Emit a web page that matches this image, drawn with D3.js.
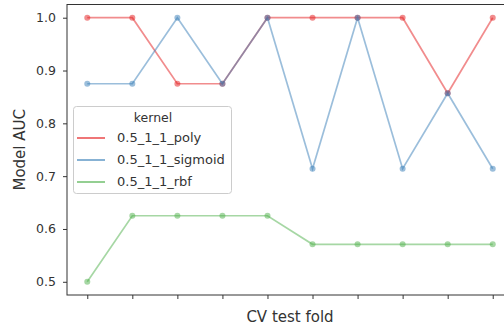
<!DOCTYPE html>
<html>
<head>
<meta charset="utf-8">
<script src="https://cdn.jsdelivr.net/npm/d3@7"></script>
<style>
  body { margin: 0; background: #fff; }
  text { font-family: 'DejaVu Sans', sans-serif; fill: #333; }
</style>
</head>
<body>
<div id="chart"></div>
<script>
const folds = [0, 1, 2, 3, 4, 5, 6, 7, 8, 9];
const kernels = ['0.5_1_1_poly', '0.5_1_1_sigmoid', '0.5_1_1_rbf'];
const polyAuc = [1.0, 1.0, 0.875, 0.875, 1.0, 1.0, 1.0, 1.0, 0.857, 1.0];
const sigmoidAuc = [0.875, 0.875, 1.0, 0.875, 1.0, 0.714, 1.0, 0.714, 0.857, 0.714];
const rbfAuc = [0.5, 0.625, 0.625, 0.625, 0.625, 0.571, 0.571, 0.571, 0.571, 0.571];
const yTicks = [0.5, 0.6, 0.7, 0.8, 0.9, 1.0];

const series = [polyAuc, sigmoidAuc, rbfAuc];
const colors = ['#e41a1c', '#377eb8', '#4daf4a'];

const width = 504, height = 328;
const plotLeft = 67, plotRight = 513, plotTop = 4.5, plotBottom = 295;

const svg = d3.select('#chart').append('svg')
  .attr('width', width)
  .attr('height', height);

// matplotlib-like 5% margins
const x = d3.scaleLinear().domain([-0.45, 9.45]).range([plotLeft, plotRight]);
const y = d3.scaleLinear().domain([0.475, 1.025]).range([plotBottom, plotTop]);

const line = d3.line()
  .x((d, i) => x(folds[i]))
  .y(d => y(d));

series.forEach((vals, k) => {
  svg.append('path')
    .datum(vals)
    .attr('d', line)
    .attr('fill', 'none')
    .attr('stroke', colors[k])
    .attr('stroke-opacity', 0.5)
    .attr('stroke-width', 1.7);
  svg.selectAll(null)
    .data(vals)
    .enter()
    .append('circle')
    .attr('cx', (d, i) => x(folds[i]))
    .attr('cy', d => y(d))
    .attr('r', 3)
    .attr('fill', colors[k])
    .attr('fill-opacity', 0.5);
});

// axes
const yAxis = svg.append('g')
  .attr('transform', `translate(${plotLeft},0)`)
  .call(d3.axisLeft(y).tickValues(yTicks).tickFormat(d3.format('.1f')).tickSize(4).tickPadding(7));
const xAxis = svg.append('g')
  .attr('transform', `translate(0,${plotBottom})`)
  .call(d3.axisBottom(x).tickValues(folds).tickFormat('').tickSize(4));

[xAxis, yAxis].forEach(g => {
  g.select('.domain').remove();
  g.selectAll('.tick line').attr('stroke', '#333').attr('stroke-width', 1);
  g.selectAll('.tick text').attr('font-size', 12.5).attr('fill', '#333')
    .attr('font-family', "'DejaVu Sans', sans-serif");
});

// spines
svg.append('rect')
  .attr('x', plotLeft)
  .attr('y', plotTop)
  .attr('width', plotRight - plotLeft)
  .attr('height', plotBottom - plotTop)
  .attr('fill', 'none')
  .attr('stroke', '#333')
  .attr('stroke-width', 1);

svg.append('text')
  .attr('transform', `translate(20,${(plotTop + plotBottom) / 2}) rotate(-90)`)
  .attr('text-anchor', 'middle')
  .attr('dominant-baseline', 'middle')
  .attr('font-size', 15)
  .text('Model AUC');

svg.append('text')
  .attr('x', 290)
  .attr('y', 317)
  .attr('text-anchor', 'middle')
  .attr('dominant-baseline', 'middle')
  .attr('font-size', 15)
  .text('CV test fold');

// legend
const legend = svg.append('g');
legend.append('rect')
  .attr('x', 73.5)
  .attr('y', 106.5)
  .attr('width', 158)
  .attr('height', 87)
  .attr('rx', 3)
  .attr('fill', '#fff')
  .attr('fill-opacity', 0.8)
  .attr('stroke', '#ccc');
legend.append('text')
  .attr('x', 153)
  .attr('y', 118)
  .attr('text-anchor', 'middle')
  .attr('dominant-baseline', 'middle')
  .attr('font-size', 12.5)
  .text('kernel');
kernels.forEach((name, k) => {
  const ly = 138 + k * 22;
  legend.append('line')
    .attr('x1', 77).attr('x2', 105)
    .attr('y1', ly).attr('y2', ly)
    .attr('stroke', colors[k])
    .attr('stroke-opacity', 0.6)
    .attr('stroke-width', 2);
  legend.append('text')
    .attr('x', 117)
    .attr('y', ly)
    .attr('dominant-baseline', 'middle')
    .attr('font-size', 13)
    .text(name);
});
</script>
</body>
</html>
